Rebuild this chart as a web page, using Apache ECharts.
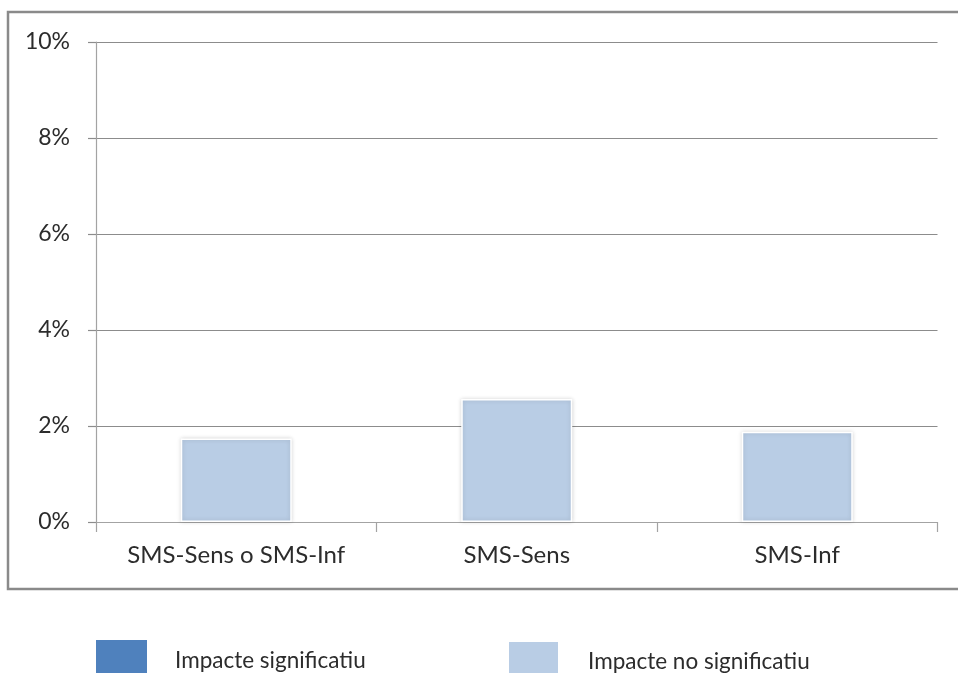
<!DOCTYPE html>
<html>
<head>
<meta charset="utf-8">
<title>Impacte per tipus de SMS</title>
<script src="https://cdn.jsdelivr.net/npm/echarts@6/dist/echarts.min.js"></script>
<style>
  html, body { margin: 0; padding: 0; background: #fff; }
  #chart { width: 958px; height: 673px; }
</style>
</head>
<body>
<div id="chart"></div>
<script>
// Categories and values (percent)
const categories = ['SMS-Sens o SMS-Inf', 'SMS-Sens', 'SMS-Inf'];
const significatiu = [0, 0, 0];
const noSignificatiu = [1.74, 2.56, 1.88];
const yTicks = [0, 2, 4, 6, 8, 10];

const FONT = 'Lato';
const TEXT = '#2c2c2c';

const chart = echarts.init(document.getElementById('chart'), null, { renderer: 'canvas' });

chart.setOption({
  animation: false,
  backgroundColor: '#ffffff',
  textStyle: { fontFamily: FONT },
  graphic: [{
    type: 'rect',
    silent: true,
    z: -1,
    shape: { x: 8, y: 12, width: 970, height: 577 },
    style: { fill: 'transparent', stroke: '#8a8a8a', lineWidth: 2.5 }
  }],
  grid: { left: 96, right: 20.5, top: 42, bottom: 151, containLabel: false },
  legend: [{
    left: 96, top: 640, padding: 0,
    itemWidth: 51, itemHeight: 42,
    icon: 'rect',
    data: ['Impacte significatiu'],
    textStyle: { fontFamily: FONT, fontSize: 22.5, color: TEXT, padding: [0, 0, 0, 23] }
  }, {
    left: 507, top: 640, padding: 0,
    itemWidth: 51, itemHeight: 42,
    icon: 'rect',
    data: ['Impacte no significatiu'],
    textStyle: { fontFamily: FONT, fontSize: 22.5, color: TEXT, padding: [0, 0, 0, 24] }
  }],
  xAxis: {
    type: 'category',
    data: categories,
    axisLine: { lineStyle: { color: '#a3a3a3', width: 1.2 } },
    axisTick: { show: true, interval: 0, length: 10, alignWithLabel: false, lineStyle: { color: '#a3a3a3', width: 1.2 } },
    axisLabel: { interval: 0, hideOverlap: false, fontFamily: FONT, fontSize: 24, color: TEXT, margin: 21 }
  },
  yAxis: {
    type: 'value',
    min: yTicks[0],
    max: yTicks[yTicks.length - 1],
    interval: 2,
    axisLine: { show: true, lineStyle: { color: '#a3a3a3', width: 1.2 } },
    axisTick: { show: true, length: 8, lineStyle: { color: '#8c8c8c', width: 1.2 } },
    splitLine: { show: true, lineStyle: { color: '#8c8c8c', width: 1.2 } },
    axisLabel: {
      fontFamily: FONT, fontSize: 23, color: TEXT, margin: 26,
      formatter: v => v + '%'
    }
  },
  series: [{
    name: 'Impacte significatiu',
    type: 'bar',
    stack: 'impacte',
    barWidth: 111,
    data: significatiu,
    itemStyle: { color: '#4F81BD' }
  }, {
    name: 'Impacte no significatiu',
    type: 'bar',
    stack: 'impacte',
    barWidth: 111,
    data: noSignificatiu,
    itemStyle: {
      color: '#B9CDE5',
      borderColor: '#ffffff',
      borderWidth: 1.5,
      shadowColor: 'rgba(0,0,0,0.16)',
      shadowBlur: 4
    }
  }]
});
</script>
</body>
</html>
